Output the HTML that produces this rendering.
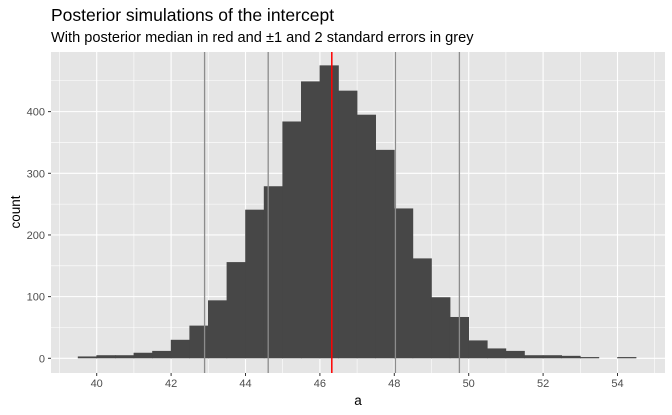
<!DOCTYPE html>
<html><head><meta charset="utf-8"><style>
body{margin:0;background:#fff;}
svg{display:block;font-family:"Liberation Sans",Arial,sans-serif;}
</style></head><body>
<svg id="chart" width="672" height="415">
<text x="51" y="21" font-size="17.5" fill="#000">Posterior simulations of the intercept</text>
<text x="51" y="42" font-size="14.6" fill="#000">With posterior median in red and ±1 and 2 standard errors in grey</text>
<rect x="51" y="52" width="614" height="321" fill="#e5e5e5"/>
<g id="grid"></g><g id="bars"></g><g id="vlines"></g><g id="axes"></g>
<text x="358" y="405" font-size="13.5" text-anchor="middle">a</text>
<text transform="translate(20,212) rotate(-90)" font-size="13.5" text-anchor="middle">count</text>
</svg>
<script>
const binStarts=[39.5,40,40.5,41,41.5,42,42.5,43,43.5,44,44.5,45,45.5,46,46.5,47,47.5,48,48.5,49,49.5,50,50.5,51,51.5,52,52.5,53,53.5,54];
const counts=[3,5,5,9,12,30,53,94,156,241,279,384,449,475,434,395,338,243,162,99,67,29,16,12,5,5,4,2,0,2];
const binWidth=0.5;
const xTicks=[40,42,44,46,48,50,52,54];
const yTicks=[0,100,200,300,400];
const seLines=[42.9,44.61,48.03,49.75];
const median=46.32;
const NS="http://www.w3.org/2000/svg";
const X=v=>96.7+(v-40)*37.2;
const Y=c=>358.3-c*0.6167;
const PL=51,PR=665,PT=52,PB=373;
function mk(t,a,p){const e=document.createElementNS(NS,t);for(const k in a)e.setAttribute(k,a[k]);p.appendChild(e);return e;}
const grid=document.getElementById('grid');
for(let v=39;v<=55;v+=1){const g=mk('line',{x1:X(v),x2:X(v),y1:PT,y2:PB,stroke:'#fff','stroke-width':v%2===0?1.1:0.55},grid);

}
for(let c=-50;c<=500;c+=50){if(Y(c)<PT||Y(c)>PB)continue;const g=mk('line',{x1:PL,x2:PR,y1:Y(c),y2:Y(c),stroke:'#fff','stroke-width':c%100===0?1.1:0.55},grid);

}
const bars=document.getElementById('bars');
binStarts.forEach((s,i)=>{if(counts[i]<=0)return;const r=mk('rect',{x:X(s)-0.3,y:Y(counts[i]),width:X(s+binWidth)-X(s)+0.6,height:Y(0)-Y(counts[i]),fill:'#474747'},bars);

});
const vl=document.getElementById('vlines');
seLines.forEach(v=>{const l=mk('line',{x1:X(v),x2:X(v),y1:PT,y2:PB,stroke:'#8c8c8c','stroke-width':1.3},vl);

});
const m=mk('line',{x1:X(median),x2:X(median),y1:PT,y2:PB,stroke:'#ff0000','stroke-width':1.5},vl);


const ax=document.getElementById('axes');
xTicks.forEach(v=>{const t=mk('line',{x1:X(v),x2:X(v),y1:PB,y2:PB+3,stroke:'#333'},ax);


const l=mk('text',{x:X(v),y:PB+14,'font-size':11,'text-anchor':'middle',fill:'#4d4d4d'},ax);l.textContent=v;

});
yTicks.forEach(c=>{const t=mk('line',{x1:PL-3,x2:PL,y1:Y(c),y2:Y(c),stroke:'#333'},ax);


const l=mk('text',{x:PL-6,y:Y(c)+4,'font-size':11,'text-anchor':'end',fill:'#4d4d4d'},ax);l.textContent=c;

});
</script>
</body></html>
